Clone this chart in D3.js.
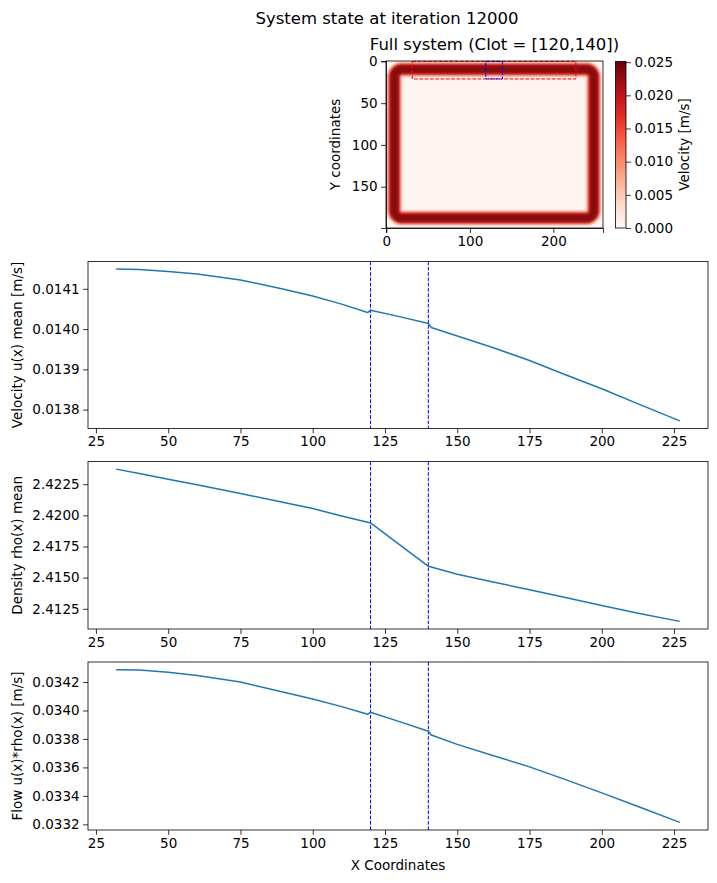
<!DOCTYPE html>
<html><head><meta charset="utf-8">
<script src="https://cdn.jsdelivr.net/npm/d3@7"></script>
<style>body{margin:0;background:#fff} text{font-family:"DejaVu Sans",sans-serif;fill:#000}</style>
</head><body><svg id="c" width="717" height="883"></svg>
<script>
// ---------- data ----------
const xCoords = [32, 40, 50, 60, 75, 90, 100, 110, 119, 120, 130, 139, 140, 141, 150, 162, 175, 187, 200, 213, 227];
const uMean = [0.014149, 0.014148, 0.014143, 0.014137, 0.014122, 0.014099, 0.014082, 0.014062, 0.014041, 0.014047, 0.014031, 0.014016, 0.014014, 0.014004, 0.013983, 0.013955, 0.013922, 0.013888, 0.013852, 0.013813, 0.013772];
const rhoMean = [2.42371, 2.42335, 2.42290, 2.42245, 2.42175, 2.42103, 2.42055, 2.41995, 2.41945, 2.41939, 2.41765, 2.41608, 2.41591, 2.41586, 2.41527, 2.41467, 2.41403, 2.41342, 2.41277, 2.41212, 2.41149];
const flow = [0.034287, 0.034284, 0.034268, 0.034245, 0.034200, 0.034128, 0.034080, 0.034027, 0.033973, 0.033988, 0.033922, 0.033861, 0.033856, 0.033828, 0.033762, 0.033686, 0.033604, 0.033518, 0.033421, 0.033322, 0.033214];
const clot = [120, 140];
const xTicks = [25, 50, 75, 100, 125, 150, 175, 200, 225];
const uTicks = [0.0138, 0.0139, 0.0140, 0.0141];
const rhoTicks = [2.4125, 2.4150, 2.4175, 2.4200, 2.4225];
const flowTicks = [0.0332, 0.0334, 0.0336, 0.0338, 0.0340, 0.0342];
const panelLabels = ["Velocity u(x) mean [m/s]", "Density rho(x) mean", "Flow u(x)*rho(x) [m/s]"];

// heatmap (260 x 200 lattice): channel centreline box, corner radius, velocity profile across channel
const gridW = 260, gridH = 200;
const channelBox = [9.5, 248.5, 9.5, 187.5];   // left, right, top, bottom of the channel centreline
const channelCorner = 9;
const profileHalfWidth = [9.5, 9, 8.5, 8, 7.5, 7, 6, 5, 4, 2.5];
const profileVelocity = [0.001, 0.003, 0.006, 0.010, 0.014, 0.017, 0.020, 0.0215, 0.0228, 0.0235];
const redBox = [31, 227, 0, 21];
const blueBox = [119, 139, 0, 21];
const heatXTicks = [0, 100, 200];
const heatYTicks = [0, 50, 100, 150];
const cbarTicks = [0, 0.005, 0.010, 0.015, 0.020, 0.025];
const cbarMax = 0.0251;

// ---------- drawing ----------
const svg = d3.select("#c");
const FS = 13.5;
const blue = "#1f77b4";

svg.append("text").attr("x", 387).attr("y", 18).attr("text-anchor", "middle")
  .attr("dominant-baseline", "central").style("font-size", "16.5px").text("System state at iteration 12000");

// heatmap
const hx = d3.scaleLinear().domain([-0.5, gridW - 0.5]).range([386, 603]);
const hy = d3.scaleLinear().domain([-0.5, gridH - 0.5]).range([61, 228]);
const color = d3.scaleSequential(d3.interpolateReds).domain([0, cbarMax]);

const defs = svg.append("defs");
defs.append("clipPath").attr("id", "hclip").append("rect")
  .attr("x", 386).attr("y", 61).attr("width", 217).attr("height", 167);
defs.append("filter").attr("id", "blur").attr("x", "-5%").attr("y", "-5%").attr("width", "110%").attr("height", "110%")
  .append("feGaussianBlur").attr("stdDeviation", 0.9);

const hg = svg.append("g").attr("clip-path", "url(#hclip)");
hg.append("rect").attr("x", 386).attr("y", 61).attr("width", 217).attr("height", 167).attr("fill", color(0));
const pg = hg.append("g").attr("filter", "url(#blur)");
function channelPath() {
  const [l, r, t, b] = channelBox, c = channelCorner;
  const p = d3.path();
  const X = hx, Y = hy, k = hx(1) - hx(0);
  p.moveTo(X(l + c), Y(t));
  p.lineTo(X(r - c), Y(t));
  p.arcTo(X(r), Y(t), X(r), Y(t + c), c * k);
  p.lineTo(X(r), Y(b - c));
  p.arcTo(X(r), Y(b), X(r - c), Y(b), c * k);
  p.lineTo(X(l + c), Y(b));
  p.arcTo(X(l), Y(b), X(l), Y(b - c), c * k);
  p.lineTo(X(l), Y(t + c));
  p.arcTo(X(l), Y(t), X(l + c), Y(t), c * k);
  p.closePath();
  return p.toString();
}
const cp = channelPath();
const kpx = hx(1) - hx(0);
profileHalfWidth.forEach((w, i) => {
  pg.append("path").attr("d", cp).attr("fill", "none")
    .attr("stroke", color(profileVelocity[i])).attr("stroke-width", 2 * w * kpx)
    .attr("stroke-linejoin", "round");
});
function dashedBox(bx, col) {
  svg.append("rect").attr("x", hx(bx[0])).attr("y", hy(bx[2]))
    .attr("width", hx(bx[1]) - hx(bx[0])).attr("height", hy(bx[3]) - hy(bx[2]))
    .attr("fill", "none").attr("stroke", col).attr("stroke-width", 1).attr("stroke-dasharray", "3.7,1.6");
}
dashedBox(redBox, "red");
dashedBox(blueBox, "blue");

svg.append("g").attr("transform", "translate(0,228)")
  .call(d3.axisBottom(hx).tickValues(heatXTicks).tickSize(4.9).tickPadding(3.5));
svg.append("g").attr("transform", "translate(386,0)")
  .call(d3.axisLeft(hy).tickValues(heatYTicks).tickSize(4.9).tickPadding(3.5));
svg.append("rect").attr("x", 386).attr("y", 61).attr("width", 217).attr("height", 167)
  .attr("fill", "none").attr("stroke", "#000").attr("stroke-width", 0.8);
svg.append("text").attr("x", 494.5).attr("y", 44.5).attr("text-anchor", "middle")
  .attr("dominant-baseline", "central").style("font-size", "16.5px").text("Full system (Clot = [120,140])");
svg.append("text").attr("transform", "translate(335,144.5) rotate(-90)").attr("text-anchor", "middle")
  .attr("dominant-baseline", "central").style("font-size", FS + "px").text("Y coordinates");

// colorbar
const cy = d3.scaleLinear().domain([0, cbarMax]).range([228, 61.5]);
const grad = defs.append("linearGradient").attr("id", "cgrad").attr("x1", 0).attr("y1", 1).attr("x2", 0).attr("y2", 0);
d3.range(0, 1.0001, 0.05).forEach(t => grad.append("stop").attr("offset", t).attr("stop-color", color(t * cbarMax)));
svg.append("rect").attr("x", 615.5).attr("y", 61.5).attr("width", 10.5).attr("height", 166.5).attr("fill", "url(#cgrad)")
  .attr("stroke", "#000").attr("stroke-width", 0.8);
svg.append("g").attr("transform", "translate(626,0)")
  .call(d3.axisRight(cy).tickValues(cbarTicks).tickFormat(d3.format(".3f")).tickSize(4.9).tickPadding(3.5))
  .call(g => g.select(".domain").remove());
svg.append("text").attr("transform", "translate(684,144.5) rotate(-90)").attr("text-anchor", "middle")
  .attr("dominant-baseline", "central").style("font-size", FS + "px").text("Velocity [m/s]");

// line panels
const padDomain = (vals) => { const [a, b] = d3.extent(vals); const m = (b - a) * 0.05; return [a - m, b + m]; };
const px = d3.scaleLinear().domain(padDomain(xCoords)).range([88, 708]);
const panels = [
  { vals: uMean, ticks: uTicks, fmt: d3.format(".4f"), top: 261.5, bottom: 428.5 },
  { vals: rhoMean, ticks: rhoTicks, fmt: d3.format(".4f"), top: 461.5, bottom: 629 },
  { vals: flow, ticks: flowTicks, fmt: d3.format(".4f"), top: 662, bottom: 830 }
];
panels.forEach((p, i) => {
  const y = d3.scaleLinear().domain(padDomain(p.vals)).range([p.bottom, p.top]);
  const g = svg.append("g");
  g.append("g").attr("transform", `translate(0,${p.bottom})`)
    .call(d3.axisBottom(px).tickValues(xTicks).tickSize(4.9).tickPadding(3.5))
    .call(a => a.select(".domain").remove());
  g.append("g").attr("transform", "translate(88,0)")
    .call(d3.axisLeft(y).tickValues(p.ticks).tickFormat(p.fmt).tickSize(4.9).tickPadding(3.5))
    .call(a => a.select(".domain").remove());
  clot.forEach(c => g.append("line").attr("x1", px(c)).attr("x2", px(c)).attr("y1", p.top).attr("y2", p.bottom)
    .attr("stroke", "blue").attr("stroke-width", 1).attr("stroke-dasharray", "3.7,1.6"));
  g.append("path").datum(xCoords.map((x, j) => [x, p.vals[j]]))
    .attr("d", d3.line().x(d => px(d[0])).y(d => y(d[1])))
    .attr("fill", "none").attr("stroke", blue).attr("stroke-width", 1.5).attr("stroke-linejoin", "round");
  g.append("rect").attr("x", 88).attr("y", p.top).attr("width", 620).attr("height", p.bottom - p.top)
    .attr("fill", "none").attr("stroke", "#000").attr("stroke-width", 0.8);
  g.append("text").attr("transform", `translate(17,${(p.top + p.bottom) / 2}) rotate(-90)`).attr("text-anchor", "middle")
    .attr("dominant-baseline", "central").style("font-size", FS + "px").text(panelLabels[i]);
});
svg.append("text").attr("x", 398).attr("y", 865).attr("text-anchor", "middle").attr("dominant-baseline", "central")
  .style("font-size", FS + "px").text("X Coordinates");

svg.selectAll(".tick text").style("font-size", FS + "px").style("font-family", "DejaVu Sans");
svg.selectAll(".tick line").attr("stroke-width", 0.8);
svg.selectAll(".domain").attr("stroke-width", 0.8);
</script></body></html>
